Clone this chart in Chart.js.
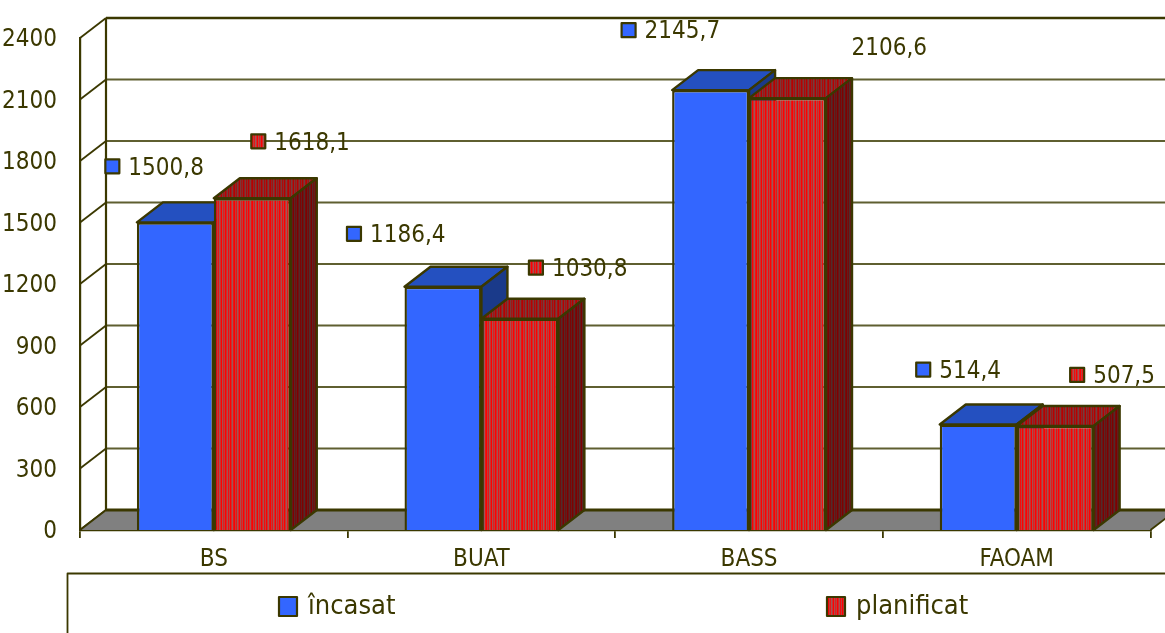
<!DOCTYPE html>
<html>
<head>
<meta charset="utf-8">
<title>încasat / planificat</title>
<style>
  html, body { margin: 0; padding: 0; background: #fff; overflow: hidden; }
  canvas { display: block; }
</style>
<script src="https://cdn.jsdelivr.net/npm/chart.js@4"></script>
</head>
<body>
<canvas id="chart" width="1165" height="633"></canvas>
<script>
const categories = ["BS", "BUAT", "BASS", "FAOAM"];
const incasat = [1500.8, 1186.4, 2145.7, 514.4];
const planificat = [1618.1, 1030.8, 2106.6, 507.5];
const yTicks = [0, 300, 600, 900, 1200, 1500, 1800, 2100, 2400];

// label placement, relative to the centre of each bar's top edge
const LABEL_OFFSETS = [
  [{ x: -63, y: -56 }, { x: 6, y: -57 }],
  [{ x: -89, y: -53 }, { x: 16, y: -51 }],
  [{ x: -82, y: -60 }, { x: 48, y: -51 }],
  [{ x: -55, y: -55 }, { x: 22, y: -51 }],
];
const NO_SWATCH = "2106,6"; // this one has no marker in the original

const INK = "#3b3800";
const GRID = "#5f5f30";
const DEPTH = { x: 26, y: -20 };
const FONT = '"DejaVu Sans Condensed", "Noto Sans", sans-serif';

/** Vertical red stripes, the same sequence darkened for the 3D faces. */
function stripes(shade) {
  const seq = [255, 190, 230, 160, 200, 255, 170, 220, 190, 255, 210, 165, 240, 185, 255, 200, 160, 230];
  const c = document.createElement("canvas");
  c.width = seq.length;
  c.height = 1;
  const g = c.getContext("2d");
  seq.forEach((v, i) => {
    const grey = Math.round((255 - v) * 0.9);
    g.fillStyle = `rgb(${Math.round(v * shade)},${Math.round(grey * shade)},${Math.round(grey * shade)})`;
    g.fillRect(i, 0, 1, 1);
  });
  return document.getElementById("chart").getContext("2d").createPattern(c, "repeat");
}

const redFront = stripes(1);
const redTop = stripes(0.72);
const redSide = stripes(0.5);

const FACES = [
  { front: "#3366ff", top: "#2450c0", side: "#1a3a8a" },
  { front: redFront, top: redTop, side: redSide },
];

function poly(ctx, pts, fill, stroke, lw) {
  ctx.beginPath();
  pts.forEach((p, i) => (i ? ctx.lineTo(p[0], p[1]) : ctx.moveTo(p[0], p[1])));
  ctx.closePath();
  if (fill) {
    ctx.fillStyle = fill;
    ctx.fill();
  }
  if (stroke) {
    ctx.strokeStyle = stroke;
    ctx.lineWidth = lw;
    ctx.lineJoin = "round";
    ctx.stroke();
  }
}

function line(ctx, x1, y1, x2, y2, color, lw) {
  ctx.beginPath();
  ctx.moveTo(x1, y1);
  ctx.lineTo(x2, y2);
  ctx.strokeStyle = color;
  ctx.lineWidth = lw;
  ctx.stroke();
}

/** Top and side faces of one dataset's bars. */
function drawFaces(ctx, meta, faces) {
  ctx.save();
  meta.data.forEach((bar) => {
    const { x, y, base, width } = bar.getProps(["x", "y", "base", "width"], true);
    const l = x - width / 2;
    const r = x + width / 2;
    poly(ctx, [[l, y], [r, y], [r + DEPTH.x, y + DEPTH.y], [l + DEPTH.x, y + DEPTH.y]], faces.top, INK, 2.4);
    poly(ctx, [[r, y], [r + DEPTH.x, y + DEPTH.y], [r + DEPTH.x, base + DEPTH.y], [r, base]], faces.side, INK, 2.4);
  });
  ctx.restore();
}

/** Back wall, floor and the diagonal tick lines. */
const wallPlugin = {
  id: "wall",
  beforeDatasetsDraw(chart) {
    const { ctx, chartArea: a, scales: { y } } = chart;
    const backLeft = a.left + DEPTH.x;
    ctx.save();
    yTicks.forEach((v) => {
      const py = y.getPixelForValue(v);
      if (v > 0) {
        line(ctx, backLeft, py + DEPTH.y, 1165, py + DEPTH.y, v === 2400 ? INK : GRID, v === 2400 ? 2.6 : 2);
      }
      line(ctx, a.left, py, backLeft, py + DEPTH.y, INK, 1.8);
    });
    line(ctx, backLeft, y.getPixelForValue(2400) + DEPTH.y, backLeft, a.bottom + DEPTH.y, INK, 2.2);
    poly(ctx, [
      [a.left, a.bottom],
      [a.right, a.bottom],
      [a.right + DEPTH.x, a.bottom + DEPTH.y],
      [backLeft, a.bottom + DEPTH.y],
    ], "#808080");
    line(ctx, backLeft, a.bottom + DEPTH.y, 1165, a.bottom + DEPTH.y, INK, 2.8);
    line(ctx, a.right, a.bottom, a.right + DEPTH.x, a.bottom + DEPTH.y, INK, 1.8);
    line(ctx, a.left, a.bottom, backLeft, a.bottom + DEPTH.y, INK, 2);
    ctx.restore();
  },
  // Chart.js paints the first dataset last, but the red bars must overlap the
  // blue ones, so the red dataset is held back and painted after the blue one
  beforeDatasetDraw(chart, args) {
    if (args.index === 1) return false;
    drawFaces(chart.ctx, args.meta, FACES[0]);
  },
  afterDatasetDraw(chart, args) {
    if (args.index !== 0) return;
    const red = chart.getDatasetMeta(1);
    drawFaces(chart.ctx, red, FACES[1]);
    red.controller.draw();
  },
};

/** Value labels with their little series markers, plus the framed legend. */
const labelsPlugin = {
  id: "labels",
  afterDraw(chart) {
    const { ctx } = chart;
    ctx.save();
    ctx.textBaseline = "middle";
    ctx.textAlign = "left";
    chart.data.datasets.forEach((ds, d) => {
      chart.getDatasetMeta(d).data.forEach((bar, i) => {
        const off = LABEL_OFFSETS[i][d];
        const sx = bar.x + off.x;
        const sy = bar.y + off.y;
        const text = ds.data[i].toFixed(1).replace(".", ",");
        if (text !== NO_SWATCH) {
          poly(ctx, [[sx - 7, sy - 7], [sx + 7, sy - 7], [sx + 7, sy + 7], [sx - 7, sy + 7]], FACES[d].front, INK, 2.2);
        }
        ctx.font = "24px " + FONT;
        ctx.fillStyle = INK;
        ctx.fillText(text, sx + 16, sy + 2);
      });
    });

    // legend frame runs off the right and bottom edges
    ctx.beginPath();
    ctx.moveTo(67.5, 633);
    ctx.lineTo(67.5, 573.5);
    ctx.lineTo(1165, 573.5);
    ctx.strokeStyle = INK;
    ctx.lineWidth = 1.8;
    ctx.stroke();
    const legendX = [288, 836];
    chart.data.datasets.forEach((ds, d) => {
      const x = legendX[d];
      poly(ctx, [[x - 9, 597], [x + 9, 597], [x + 9, 616], [x - 9, 616]], FACES[d].front, INK, 2.2);
      ctx.font = "27px " + FONT;
      ctx.fillStyle = INK;
      ctx.fillText(ds.label, x + 20, 607);
    });
    ctx.restore();
  },
};

new Chart(document.getElementById("chart"), {
  type: "bar",
  data: {
    labels: categories,
    datasets: [
      { label: "încasat", data: incasat, backgroundColor: FACES[0].front, borderColor: INK, borderWidth: 2.4 },
      { label: "planificat", data: planificat, backgroundColor: FACES[1].front, borderColor: INK, borderWidth: 2.4 },
    ],
  },
  options: {
    responsive: false,
    animation: false,
    devicePixelRatio: 1,
    layout: { padding: { top: 38, right: 14.5, left: 0, bottom: 0 } },
    datasets: { bar: { categoryPercentage: 0.575, barPercentage: 1 } },
    scales: {
      x: {
        afterFit: (s) => { s.height = 103; },
        border: { color: INK, width: 2.2 },
        grid: { offset: true, drawOnChartArea: false, color: INK, lineWidth: 1.8, tickLength: 8 },
        ticks: { color: INK, padding: 7, font: { family: FONT, size: 24 }, maxRotation: 0 },
      },
      y: {
        min: 0,
        max: 2400,
        afterFit: (s) => { s.width = 80; },
        afterBuildTicks: (s) => { s.ticks = yTicks.map((value) => ({ value })); },
        border: { color: INK, width: 2.2 },
        grid: { display: false },
        ticks: { color: INK, padding: 15, labelOffset: 2, font: { family: FONT, size: 24 }, callback: (v) => String(v) },
      },
    },
    plugins: {
      legend: { display: false },
      tooltip: { enabled: false },
    },
  },
  plugins: [wallPlugin, labelsPlugin],
});
</script>
</body>
</html>
